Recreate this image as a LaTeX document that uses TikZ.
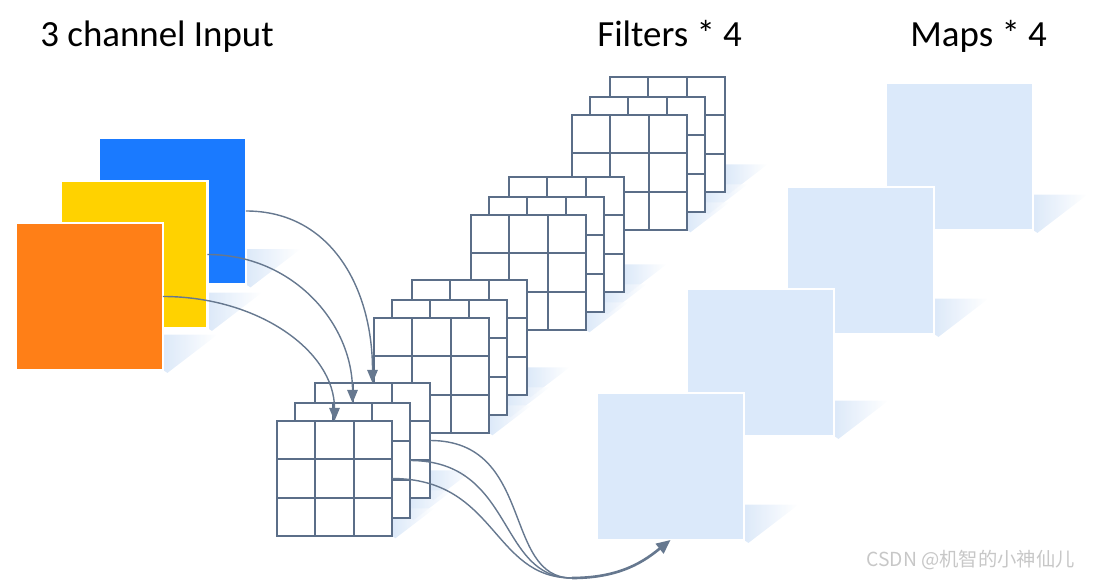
\documentclass[tikz,border=0pt]{standalone}
\usepackage{fontspec}
\setmainfont{Carlito}
\newfontfamily\cjk{Noto Sans CJK SC}
\usetikzlibrary{calc,arrows.meta,backgrounds}
\definecolor{inblue}{HTML}{1A7AFF}
\definecolor{inyellow}{HTML}{FFD200}
\definecolor{inorange}{HTML}{FF7F17}
\definecolor{mapblue}{HTML}{DBE9FA}
\definecolor{gridgray}{HTML}{5B6E88}
\definecolor{arrowgray}{HTML}{66788F}
\definecolor{shadowblue}{HTML}{D3E3F7}
\tikzset{
  inp/.style={fill=#1,draw=white,line width=1.6pt,minimum size=2.94cm,inner sep=0pt,outer sep=0pt},
  map/.style={inp=mapblue},
  filt/.style={fill=white,draw=gridgray,line width=1.1pt,minimum size=2.3cm,inner sep=0pt,outer sep=0pt},
  cell/.style={gridgray,line width=1.1pt},
  conn/.style={arrowgray,line width=0.8pt},
  title/.style={font=\fontsize{21}{25}\selectfont,anchor=base west,inner sep=0pt},
  sqshadow/.style={left color=shadowblue,right color=white,draw=none,opacity=0.8}
}

\begin{document}
\begin{tikzpicture}[x=0.02cm,y=-0.02cm]
\useasboundingbox (0,0) rectangle (1105,580);

\node[title] (tin) at (40,47) {3 channel Input};
\node[title] (tfi) at (597,47) {Filters * 4};
\node[title] (tma) at (910,47) {Maps * 4};

\node[inp=inblue] (inB) at (172.5,211) {};
\node[inp=inyellow] (inY) at (134,254.5) {};
\node[inp=inorange] (inO) at (89.5,296.5) {};

\node[map] (m4) at (959.5,156.5) {};
\node[map] (m3) at (860.5,260.5) {};
\node[map] (m2) at (760.5,362.5) {};
\node[map] (m1) at (670.5,466.5) {};

\foreach \g/\x/\y in {4/572/115,3/471/215,2/374/318,1/277/421}
  \foreach \l/\d in {3/38,2/18,1/0}{
    \node[filt] (f\g\l) at (\x+\d+57.5,\y-\d+57.5) {};
    \foreach \t in {1,2}{
      \draw[cell] ($(f\g\l.north west)!\t/3!(f\g\l.north east)$) -- ($(f\g\l.south west)!\t/3!(f\g\l.south east)$);
      \draw[cell] ($(f\g\l.north west)!\t/3!(f\g\l.south west)$) -- ($(f\g\l.north east)!\t/3!(f\g\l.south east)$);
    }
  }

\begin{scope}[on background layer]
  \foreach \n/\s in {inB/147,inY/147,inO/147,m4/147,m3/147,m2/147,m1/147,
                     f43/115,f42/115,f41/115,f33/115,f32/115,f31/115,
                     f23/115,f22/115,f21/115,f13/115,f12/115,f11/115}
    \shade[sqshadow] (\n.south east) -- ($(\n.south east)+(0,-0.24*\s)$)
      -- ($(\n.south east)+(0.37*\s,-0.24*\s)$) -- ($(\n.south east)+(0.03*\s,0.02*\s)$) -- cycle;
\end{scope}

\draw[conn,-{Triangle[length=7.5pt,width=6pt]}] (inB.east) .. controls +(85,0) and +(0,-95) .. (f13.north);
\draw[conn,-{Triangle[length=7.5pt,width=6pt]}] (inY.east) .. controls +(85,0) and +(0,-80) .. (f12.north);
\draw[conn,-{Triangle[length=7.5pt,width=6pt]}] (inO.east) .. controls +(95,0) and +(0,-70) .. (f11.north);

\coordinate (mrg) at (572,578);
\draw[conn] (f11.east) .. controls +(105,0) and +(-80,0) .. (mrg);
\draw[conn] (f12.east) .. controls +(105,0) and +(-75,0) .. (mrg);
\draw[conn] (f13.east) .. controls +(105,0) and +(-70,0) .. (mrg);
\draw[conn,line width=1.5pt,-{Triangle[length=8pt,width=7pt]}] (mrg) .. controls +(50,0) and +(-25,20) .. (m1.south);

\node[font=\cjk\fontsize{11}{13}\selectfont,text=black!22,anchor=base west,inner sep=0pt] (wm) at (866,566) {CSDN @机智的小神仙儿};
\end{tikzpicture}
\end{document}
